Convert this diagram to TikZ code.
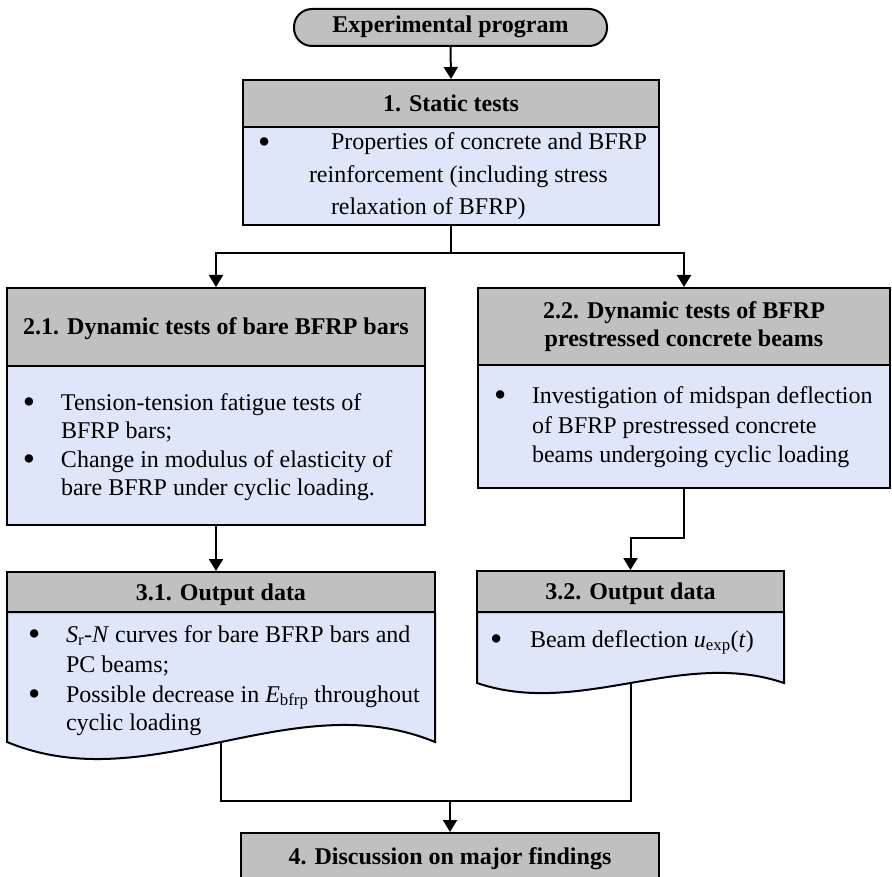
\documentclass[tikz,border=0pt]{standalone}
\usepackage{fontspec}
\setmainfont{Liberation Serif}
\usetikzlibrary{arrows.meta}
\definecolor{hdr}{RGB}{192,192,192}
\definecolor{bdy}{RGB}{224,230,250}
\newcommand\tline[4]{\node[txt] (#1) at (#2,#3) {#4};}
\newcommand\bigbul{\raisebox{-3.5pt}{\fontsize{35}{35}\selectfont\textbullet}}
\newcommand\bul{\makebox[37pt][l]{\bigbul}}
\begin{document}
\begin{tikzpicture}[x=1pt,y=-1pt,line width=2pt,
  hdrbox/.style={draw,fill=hdr,inner sep=0pt,font=\fontsize{24}{28}\selectfont\bfseries},
  onel/.style={text height=16pt,text depth=0pt},
  bdybox/.style={draw,fill=bdy,inner sep=0pt},
  txt/.style={anchor=base west,inner sep=0pt,font=\fontsize{24}{28}\selectfont},
  arr/.style={-{Triangle[length=12pt,width=14pt]}}]
\useasboundingbox (0,0) rectangle (892,877);
\clip (0,0) rectangle (892,877);

% terminator
\node[hdrbox,rounded corners=18pt,minimum width=313pt,minimum height=37pt,
  text height=16pt,text depth=5pt] (term) at (450.5,27.5) {Experimental program};

% 1. static
\node[bdybox,minimum width=416pt,minimum height=98pt] (b1) at (451,176) {};
\node[hdrbox,onel,minimum width=416pt,minimum height=47pt] (h1) at (451,103.5) {1. Static tests};

% 2.1
\node[bdybox,minimum width=418pt,minimum height=159pt] (b21) at (216,445.5) {};
\node[hdrbox,onel,minimum width=418pt,minimum height=78pt] (h21) at (216,327) {2.1. Dynamic tests of bare BFRP bars};

% 2.2
\node[bdybox,minimum width=412pt,minimum height=123pt] (b22) at (684,426.5) {};
\node[hdrbox,align=center,minimum width=412pt,minimum height=77pt] (h22) at (684,326.5) {2.2. Dynamic tests of BFRP\\prestressed concrete beams};

% 3.1 document shape
\draw[fill=bdy] (435,612) -- (435,742) .. controls (292.3,683) and (149.7,801) .. (7,742) -- (7,612) -- cycle;
\coordinate (b31o) at (221,742);
\node[hdrbox,onel,minimum width=428pt,minimum height=40pt] (h31) at (221,592) {3.1. Output data};

% 3.2 document shape
\draw[fill=bdy] (784,612) -- (784,683) .. controls (681.7,648) and (579.3,718) .. (477,683) -- (477,612) -- cycle;
\coordinate (b32o) at (630.5,683);
\node[hdrbox,onel,minimum width=307pt,minimum height=41pt] (h32) at (630.5,591.5) {3.2. Output data};

% 4
\node[hdrbox,onel,minimum width=418pt,minimum height=46pt] (h4) at (450,856) {4. Discussion on major findings};

% body text
\tline{s1a}{257}{150}{\makebox[73pt][l]{\bigbul}Properties of concrete and BFRP}
\tline{s1b}{308}{183}{reinforcement (including stress}
\tline{s1c}{330}{215}{relaxation of BFRP)}

\tline{t21a}{22}{410}{\makebox[38pt][l]{\bigbul}Tension-tension fatigue tests of}
\tline{t21b}{60}{438}{BFRP bars;}
\tline{t21c}{22}{467}{\makebox[38pt][l]{\bigbul}Change in modulus of elasticity of}
\tline{t21d}{60}{495}{bare BFRP under cyclic loading.}

\tline{t22a}{493}{403}{\makebox[38pt][l]{\bigbul}Investigation of midspan deflection}
\tline{t22b}{531}{433}{of BFRP prestressed concrete}
\tline{t22c}{531}{462}{beams undergoing cyclic loading}

\tline{t31a}{27}{642}{\makebox[38pt][l]{\bigbul}\textit{S}\textsubscript{r}-\textit{N} curves for bare BFRP bars and}
\tline{t31b}{65}{672}{PC beams;}
\tline{t31c}{27}{702}{\makebox[38pt][l]{\bigbul}Possible decrease in \textit{E}\textsubscript{bfrp} throughout}
\tline{t31d}{65}{730}{cyclic loading}

\tline{t32a}{489}{647}{\makebox[40pt][l]{\bigbul}Beam deflection \textit{u}\textsubscript{exp}(\textit{t})}

% connectors
\draw[arr] (term.south) -- (h1.north);
\coordinate (j1) at (451,253);
\draw (b1.south) -- (j1);
\draw[arr] (j1) -| (h21.north);
\draw[arr] (j1) -| (h22.north);
\draw[arr] (b21.south) -- (b21.south |- h31.north);
\draw[arr] (b22.south) -- ++(0,49) -| (h32.north);
\coordinate (j4) at (450,801);
\draw (b31o) |- (j4);
\draw (b32o) |- (j4);
\draw[arr] (j4) -- (h4.north);
\end{tikzpicture}
\end{document}
